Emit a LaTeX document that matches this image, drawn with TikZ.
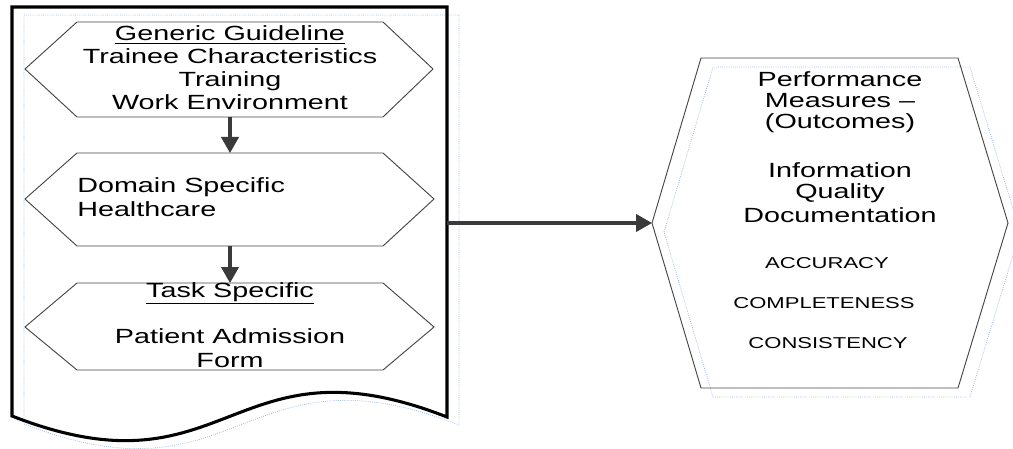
\documentclass[tikz,border=0pt]{standalone}
\usepackage{fontspec}
\setmainfont{Liberation Sans}[FakeStretch=1.4]
\usetikzlibrary{arrows.meta}
\definecolor{shadowblue}{RGB}{160,185,228}
\definecolor{linkgray}{RGB}{58,58,58}
\definecolor{hexgray}{RGB}{70,70,70}
\tikzset{
  docline/.style={draw=black, line width=2.3pt, line join=miter},
  hexline/.style={draw=hexgray, line width=0.7pt},
  ghost/.style={draw=shadowblue, line width=0.6pt, densely dotted},
  flowarrow/.style={draw=linkgray, line width=2.3pt, -{Triangle[length=12pt,width=13pt]}},
  bigtext/.style={anchor=base, inner sep=0pt, font=\fontsize{15.4}{17}\selectfont},
  lefttext/.style={anchor=base west, inner sep=0pt, font=\fontsize{15.4}{17}\selectfont},
  capstext/.style={anchor=base, inner sep=0pt, font=\fontsize{11.8}{13}\selectfont},
}
\begin{document}
\begin{tikzpicture}[x=0.75pt,y=-0.75pt]
\useasboundingbox (0,0) rectangle (1013,449);
\clip (0,0) rectangle (1013,449);

% dotted outlines offset behind the two large shapes
\draw[ghost] (24,15) -- (459,15) -- (459,425)
  .. controls (241.5,340) and (241.5,509) .. (24,424) -- cycle;
\draw[ghost] (664,232) -- (713,67) -- (970,67) -- (1020,232) -- (970,397) -- (713,397) -- cycle;

% document outline with wavy bottom
\draw[docline] (12,7) -- (447,7) -- (447,417)
  .. controls (229.5,332) and (229.5,501) .. (12,416) -- cycle;

% three stacked hexagons
\draw[hexline] (25,69) -- (77,22) -- (383,22) -- (433,69) -- (383,117) -- (77,117) -- cycle;
\draw[hexline] (25,199) -- (77,153) -- (383,153) -- (434,199) -- (383,246) -- (77,246) -- cycle;
\draw[hexline] (25,327) -- (77,283) -- (383,283) -- (434,327) -- (383,370) -- (77,370) -- cycle;

% outcome hexagon
\draw[hexline] (652,223) -- (701,58) -- (958,58) -- (1008,223) -- (958,388) -- (701,388) -- cycle;

% connector end points
\coordinate (genBottom) at (230,117);
\coordinate (domTop) at (230,153);
\coordinate (domBottom) at (230,246);
\coordinate (taskTop) at (230,283);
\coordinate (docEast) at (447,223);
\coordinate (outWest) at (652,223);

% generic guideline
\node[bigtext] (gen1) at (230,41) {\underline{Generic Guideline}};
\node[bigtext] (gen2) at (230,64) {Trainee Characteristics};
\node[bigtext] (gen3) at (230,87) {Training};
\node[bigtext] (gen4) at (230,110) {Work Environment};

% domain specific
\node[lefttext] (dom1) at (77,192) {Domain Specific};
\node[lefttext] (dom2) at (77,216) {Healthcare};

% task specific
\node[bigtext] (task1) at (230,297) {\underline{Task Specific}};
\node[bigtext] (task2) at (230,343) {Patient Admission};
\node[bigtext] (task3) at (230,367) {Form};

% performance measures
\node[bigtext] (perf1) at (840,87) {Performance};
\node[bigtext] (perf2) at (840,108) {Measures –};
\node[bigtext] (perf3) at (840,129) {(Outcomes)};
\node[bigtext] (perf4) at (840,177) {Information};
\node[bigtext] (perf5) at (840,199) {Quality};
\node[bigtext] (perf6) at (840,222) {Documentation};
\node[capstext] (acc) at (827,268) {ACCURACY};
\node[capstext] (comp) at (824,308) {COMPLETENESS};
\node[capstext] (cons) at (828,348) {CONSISTENCY};

% connectors
\draw[flowarrow] (genBottom) -- (domTop);
\draw[flowarrow] (domBottom) -- (taskTop);
\draw[flowarrow] (docEast) -- (outWest);
\end{tikzpicture}
\end{document}
